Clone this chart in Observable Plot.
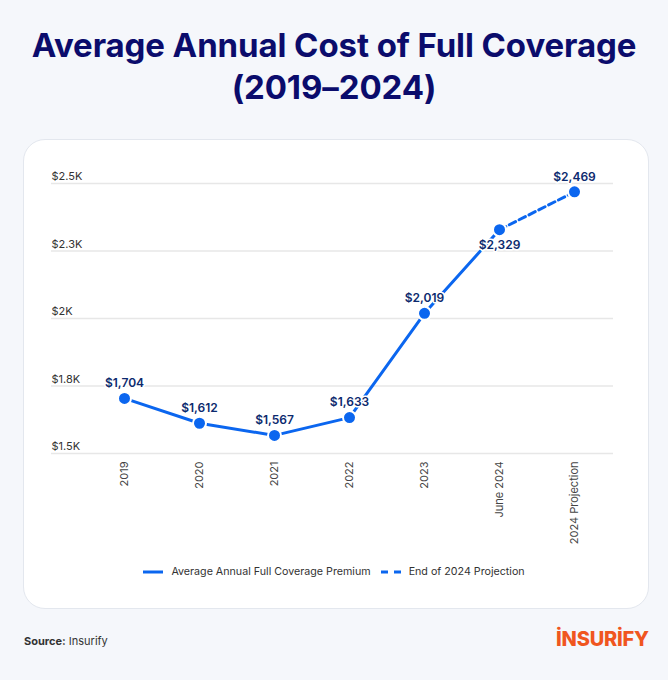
<!DOCTYPE html>
<html>
<head>
<meta charset="utf-8">
<script src="https://cdn.jsdelivr.net/npm/d3@7"></script>
<script src="https://cdn.jsdelivr.net/npm/@observablehq/plot@0.6"></script>
<style>
  html, body { margin:0; padding:0; background:#f5f7fb; }
  body { width:668px; height:680px; position:relative; overflow:hidden; font-family:"Inter", sans-serif; }
  #title { position:absolute; left:0; top:24px; width:668px; text-align:center; color:#0b0c6c;
           font-family:"Inter", sans-serif; font-weight:700; font-size:33px; line-height:42px; letter-spacing:-0.1px; margin:0; }
  #card { position:absolute; left:23px; top:139px; width:626px; height:470px; background:#fff;
          border:1px solid #e3e7ee; border-radius:22px; box-sizing:border-box; }
  #chart { position:absolute; left:0; top:150px; }
  #legend { position:absolute; left:0; top:565px; width:668px; display:flex; justify-content:center; align-items:center;
            font-size:10.7px; color:#333; gap:0; }
  #legend .item { display:flex; align-items:center; margin:0 5px; }
  #legend svg { margin-right:8px; }
  #source { position:absolute; left:24px; top:634px; font-size:11px; color:#333; }
  #logo { position:absolute; left:556px; top:627px; font-size:20px; font-weight:800; color:#f0561f; letter-spacing:-0.2px; }
</style>
</head>
<body>
<h1 id="title">Average Annual Cost of Full Coverage<br>(2019–2024)</h1>
<div id="card"></div>
<div id="chart"></div>
<div id="legend"></div>
<div id="source"><b>Source:</b> Insurify</div>
<div id="logo">İNSURİFY</div>
<script>
const categories = ["2019", "2020", "2021", "2022", "2023", "June 2024", "2024 Projection"];
const premium = [1704, 1612, 1567, 1633, 2019, 2329, 2469];
const yTicks = [1500, 1750, 2000, 2250, 2500];
const yTickLabels = ["$1.5K", "$1.8K", "$2K", "$2.3K", "$2.5K"];
const seriesNames = ["Average Annual Full Coverage Premium", "End of 2024 Projection"];

const blue = "#0b66ef";
const rows = categories.map((c, i) => ({cat: c, value: premium[i]}));
const solidRows = rows.slice(0, 6);
const projRows = rows.slice(5);
const fmt = d3.format("$,");

const chart = Plot.plot({
  width: 668,
  height: 400,
  marginTop: 33,
  marginBottom: 97,
  marginLeft: 85,
  marginRight: 55,
  style: {fontFamily: "Inter, sans-serif", background: "transparent", overflow: "visible"},
  x: {type: "point", domain: categories, padding: 0.5, label: null},
  y: {domain: [1500, 2500], label: null, axis: null},
  marks: [
    Plot.ruleY(yTicks, {stroke: "#e7e7e7", strokeWidth: 1.3, insetLeft: -34}),
    Plot.text(yTicks, {y: d => d, text: (d, i) => yTickLabels[i], frameAnchor: "left", textAnchor: "start",
      dx: -34, dy: -7, fontSize: 11, fill: "#333"}),
    Plot.axisX({tickRotate: -90, tickSize: 0, tickPadding: 8, fontSize: 11, fill: "#444", label: null}),
    Plot.line(solidRows, {x: "cat", y: "value", stroke: blue, strokeWidth: 3}),
    Plot.line(projRows, {x: "cat", y: "value", stroke: blue, strokeWidth: 3, strokeDasharray: "7,4"}),
    Plot.dot(rows, {x: "cat", y: "value", r: 6.5, fill: blue, stroke: "white", strokeWidth: 2}),
    Plot.text(rows.filter(d => d.cat !== "June 2024"), {x: "cat", y: "value", text: d => fmt(d.value), dy: -15,
      fontSize: 12, fontWeight: 600, fill: "#0c2a6e", stroke: "white", strokeWidth: 3}),
    Plot.text(rows.filter(d => d.cat === "June 2024"), {x: "cat", y: "value", text: d => fmt(d.value), dy: 15,
      fontSize: 12, fontWeight: 600, fill: "#0c2a6e", stroke: "white", strokeWidth: 3})
  ]
});
document.getElementById("chart").appendChild(chart);

const legend = document.getElementById("legend");
seriesNames.forEach((name, i) => {
  const item = document.createElement("div");
  item.className = "item";
  const sw = i === 0
    ? `<svg width="20" height="4"><line x1="0" y1="2" x2="20" y2="2" stroke="${blue}" stroke-width="3"/></svg>`
    : `<svg width="20" height="4"><line x1="0" y1="2" x2="20" y2="2" stroke="${blue}" stroke-width="3" stroke-dasharray="7,6"/></svg>`;
  item.innerHTML = sw + `<span>${name}</span>`;
  legend.appendChild(item);
});
</script>
</body>
</html>
